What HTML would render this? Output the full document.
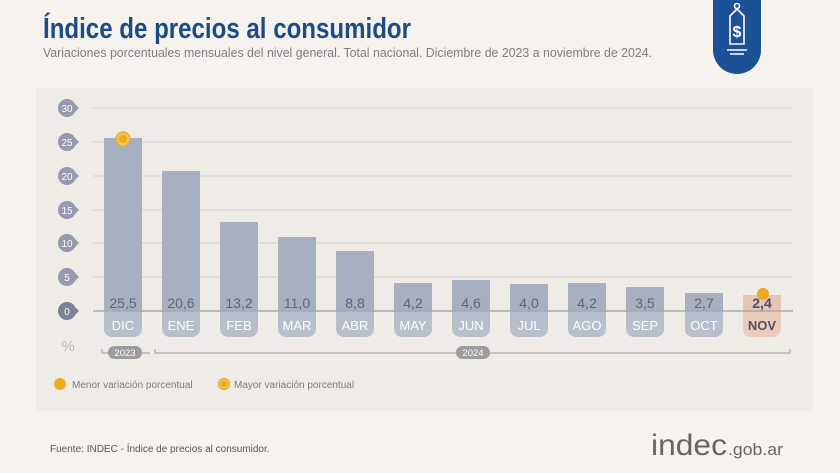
<!DOCTYPE html>
<html><head><meta charset="utf-8"><style>
html,body{margin:0;padding:0;}
body{width:840px;height:473px;background:#f6f3ee;font-family:"Liberation Sans",sans-serif;overflow:hidden;position:relative;}
</style></head><body>
<svg width="840" height="473" viewBox="0 0 840 473" xmlns="http://www.w3.org/2000/svg" style="position:absolute;left:0;top:0" font-family="Liberation Sans, sans-serif">
<rect x="0" y="0" width="840" height="473" fill="#f6f3ee"/>
<text x="43" y="38" font-size="29" font-weight="bold" fill="#1c4c88" textLength="368" lengthAdjust="spacingAndGlyphs">Índice de precios al consumidor</text>
<text x="43" y="57" font-size="12.5" fill="#7d7d7d" textLength="609" lengthAdjust="spacingAndGlyphs">Variaciones porcentuales mensuales del nivel general. Total nacional. Diciembre de 2023 a noviembre de 2024.</text>
<path d="M713 0 H761 V50 A24 24 0 0 1 713 50 Z" fill="#1d5196"/>
<g stroke="#fff" stroke-width="1.6" fill="none">
<circle cx="737" cy="6" r="2.5"/>
<path d="M737 9 L730 16 V44 H744 V16 Z"/>
<path d="M727 50 H747 M730 54 H744"/>
</g>
<text x="737" y="37" font-size="16" font-weight="bold" fill="#fff" text-anchor="middle">$</text>
<rect x="36" y="88" width="777" height="323" fill="#efece7"/>
<g stroke="#d4d1cc" stroke-width="1">
<line x1="93" y1="108" x2="793" y2="108"/>
<line x1="93" y1="142" x2="793" y2="142"/>
<line x1="93" y1="176" x2="793" y2="176"/>
<line x1="93" y1="210" x2="793" y2="210"/>
<line x1="93" y1="243" x2="793" y2="243"/>
<line x1="93" y1="277" x2="793" y2="277"/>
</g>
<g fill="#9799ad" font-size="10" text-anchor="middle">
<g><circle cx="67" cy="108" r="9"/><path d="M74 103 L79 108 L74 113Z"/><text x="67" y="112" fill="#fff">30</text></g>
<g><circle cx="67" cy="142" r="9"/><path d="M74 137 L79 142 L74 147Z"/><text x="67" y="146" fill="#fff">25</text></g>
<g><circle cx="67" cy="176" r="9"/><path d="M74 171 L79 176 L74 181Z"/><text x="67" y="180" fill="#fff">20</text></g>
<g><circle cx="67" cy="210" r="9"/><path d="M74 205 L79 210 L74 215Z"/><text x="67" y="214" fill="#fff">15</text></g>
<g><circle cx="67" cy="243" r="9"/><path d="M74 238 L79 243 L74 248Z"/><text x="67" y="247" fill="#fff">10</text></g>
<g><circle cx="67" cy="277" r="9"/><path d="M74 272 L79 277 L74 282Z"/><text x="67" y="281" fill="#fff">5</text></g>
<g><circle cx="67" cy="311" r="9" fill="#7d8096"/><path d="M74 306 L79 311 L74 316Z" fill="#7d8096"/><text x="67" y="315" fill="#fff">0</text></g>
</g>
<text x="68" y="351" font-size="15" fill="#b5b5bd" text-anchor="middle">%</text>
<g fill="#a6b0c1">
<rect x="104" y="138" width="38" height="173"/>
<rect x="162" y="171" width="38" height="140"/>
<rect x="220" y="222" width="38" height="89"/>
<rect x="278" y="237" width="38" height="74"/>
<rect x="336" y="251" width="38" height="60"/>
<rect x="394" y="283" width="38" height="28"/>
<rect x="452" y="280" width="38" height="31"/>
<rect x="510" y="284" width="38" height="27"/>
<rect x="568" y="283" width="38" height="28"/>
<rect x="626" y="287" width="38" height="24"/>
<rect x="685" y="293" width="38" height="18"/>
</g>
<rect x="743" y="295" width="38" height="16" fill="#e6c5b4"/>
<g fill="#b7bfcd">
<path d="M104 311 h38 v18 a8 8 0 0 1 -8 8 h-22 a8 8 0 0 1 -8 -8z"/>
<path d="M162 311 h38 v18 a8 8 0 0 1 -8 8 h-22 a8 8 0 0 1 -8 -8z"/>
<path d="M220 311 h38 v18 a8 8 0 0 1 -8 8 h-22 a8 8 0 0 1 -8 -8z"/>
<path d="M278 311 h38 v18 a8 8 0 0 1 -8 8 h-22 a8 8 0 0 1 -8 -8z"/>
<path d="M336 311 h38 v18 a8 8 0 0 1 -8 8 h-22 a8 8 0 0 1 -8 -8z"/>
<path d="M394 311 h38 v18 a8 8 0 0 1 -8 8 h-22 a8 8 0 0 1 -8 -8z"/>
<path d="M452 311 h38 v18 a8 8 0 0 1 -8 8 h-22 a8 8 0 0 1 -8 -8z"/>
<path d="M510 311 h38 v18 a8 8 0 0 1 -8 8 h-22 a8 8 0 0 1 -8 -8z"/>
<path d="M568 311 h38 v18 a8 8 0 0 1 -8 8 h-22 a8 8 0 0 1 -8 -8z"/>
<path d="M626 311 h38 v18 a8 8 0 0 1 -8 8 h-22 a8 8 0 0 1 -8 -8z"/>
<path d="M685 311 h38 v18 a8 8 0 0 1 -8 8 h-22 a8 8 0 0 1 -8 -8z"/>
</g>
<path d="M743 311 h38 v18 a8 8 0 0 1 -8 8 h-22 a8 8 0 0 1 -8 -8z" fill="#ebcbba"/>
<line x1="93" y1="311" x2="793" y2="311" stroke="#a9a9ad" stroke-width="1.5"/>
<g font-size="14" fill="#5c6479" text-anchor="middle">
<text x="123" y="308">25,5</text><text x="181" y="308">20,6</text><text x="239" y="308">13,2</text>
<text x="297" y="308">11,0</text><text x="355" y="308">8,8</text><text x="413" y="308">4,2</text>
<text x="471" y="308">4,6</text><text x="529" y="308">4,0</text><text x="587" y="308">4,2</text>
<text x="645" y="308">3,5</text><text x="704" y="308">2,7</text>
<text x="762" y="308" font-weight="bold" fill="#4e5068">2,4</text>
</g>
<g font-size="13" fill="#fff" text-anchor="middle">
<text x="123" y="330">DIC</text><text x="181" y="330">ENE</text><text x="239" y="330">FEB</text>
<text x="297" y="330">MAR</text><text x="355" y="330">ABR</text><text x="413" y="330">MAY</text>
<text x="471" y="330">JUN</text><text x="529" y="330">JUL</text><text x="587" y="330">AGO</text>
<text x="645" y="330">SEP</text><text x="704" y="330">OCT</text>
<text x="762" y="330" font-weight="bold" fill="#4e5068">NOV</text>
</g>
<circle cx="123" cy="139" r="7" fill="#f0c65a" stroke="#e9b035" stroke-width="1.5"/>
<circle cx="123" cy="139" r="4" fill="#e9ab1e"/>
<circle cx="763" cy="294" r="6" fill="#eaab22"/>
<g stroke="#aaa" stroke-width="1.2" fill="none">
<path d="M102 349 V353 H150"/>
<path d="M155 349 V353 H790 V349"/>
</g>
<rect x="108" y="346" width="34" height="13" rx="6.5" fill="#9c9c9c"/>
<text x="125" y="356" font-size="9.5" fill="#fff" text-anchor="middle">2023</text>
<rect x="456" y="346" width="34" height="13" rx="6.5" fill="#9c9c9c"/>
<text x="473" y="356" font-size="9.5" fill="#fff" text-anchor="middle">2024</text>
<circle cx="60" cy="384" r="6" fill="#eaab22"/>
<text x="72" y="388" font-size="10" fill="#7a7a7a">Menor variación porcentual</text>
<circle cx="224" cy="384" r="5.5" fill="#f0c65a" stroke="#e9b035" stroke-width="1.2"/>
<circle cx="224" cy="384" r="3" fill="#e9ab1e"/>
<text x="234" y="388" font-size="10" fill="#7a7a7a">Mayor variación porcentual</text>
<text x="50" y="452" font-size="10" fill="#555">Fuente: INDEC - Índice de precios al consumidor.</text>
<text x="651" y="455" font-size="30" fill="#666" textLength="76" lengthAdjust="spacingAndGlyphs">indec</text>
<text x="728" y="455" font-size="17" fill="#666" textLength="55" lengthAdjust="spacingAndGlyphs">.gob.ar</text>
</svg>
</body></html>
